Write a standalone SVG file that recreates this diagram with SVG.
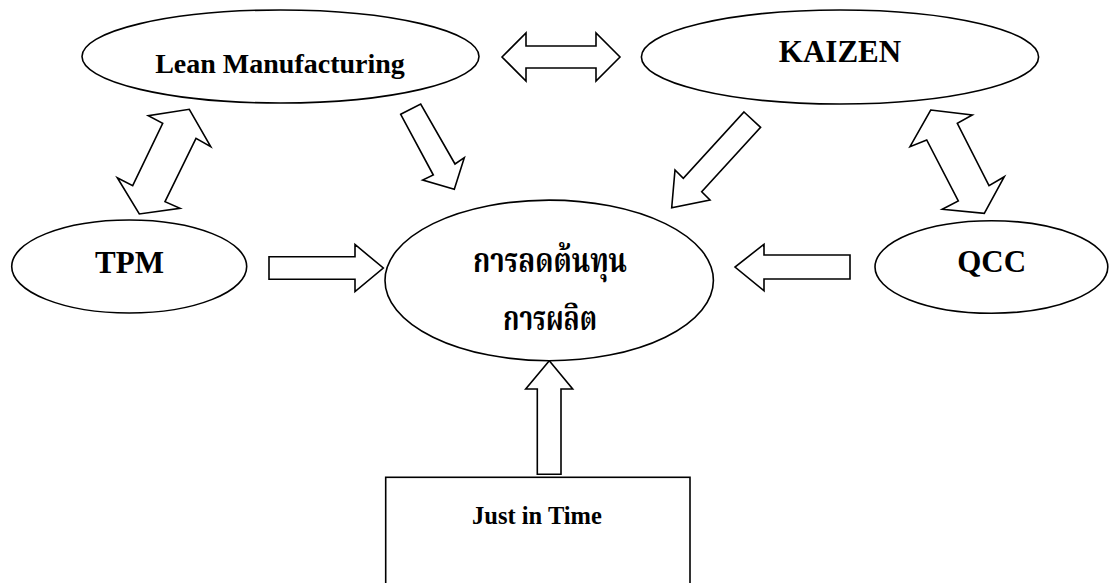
<svg xmlns="http://www.w3.org/2000/svg" width="1109" height="583" viewBox="0 0 1109 583">
<style>
.shape{fill:#fff;stroke:#000;stroke-width:1.6}
.arrow{fill:#fff;stroke:#000;stroke-width:1.6;stroke-linejoin:miter}
.lbl{font-family:"Liberation Serif","Times New Roman",serif;font-weight:bold;fill:#000;text-anchor:middle}
.thai{font-family:"Noto Serif Thai","Noto Sans Thai Looped","Kinnari","Norasi","Garuda","Loma","Noto Sans Thai","DejaVu Sans",sans-serif;font-weight:bold;fill:#000;text-anchor:middle}
</style>
<rect width="1109" height="583" fill="#fff"/>
<g id="connectors">
  <polygon class="arrow" points="502,57 526,33 526,46 596,46 596,33 620,57 596,81 596,68 526,68 526,81"/>
  <polygon class="arrow" points="400.7,114.3 420.7,104 455,164 464.3,157.7 454.3,189.3 422.7,180 433.3,175"/>
  <polygon class="arrow" points="744,112 760.6,127.3 701.7,191.7 710,200 671.7,207.7 675,170 683.3,178.3"/>
  <polygon class="arrow" points="189.3,109.3 210.7,146.7 196,138.3 165,201.7 180,208.3 139.3,214 117.3,177.7 132.7,185.7 162.7,123.3 148.3,115.7"/>
  <polygon class="arrow" points="930.7,110 972.3,115 957.3,123.3 989,185.7 1004.3,176.7 984.3,213.3 942.3,209.3 958.3,201 926.7,140 910,146.7"/>
  <polygon class="arrow" points="269,256.7 355,256.7 355,244.5 383.3,268 355,291.5 355,279.3 269,279.3"/>
  <polygon class="arrow" points="850,255 764,255 764,244.3 735,267 764,290.7 764,279 850,279"/>
  <polygon class="arrow" points="549.3,360.7 572.7,389 561,389 561,474.3 537.3,474.3 537.3,389 525.7,389"/>
</g>
<g id="lean">
  <ellipse class="shape" cx="280.5" cy="56.5" rx="198.5" ry="46.5"/>
  <text class="lbl" x="280" y="72.5" font-size="28">Lean Manufacturing</text>
</g>
<g id="kaizen">
  <ellipse class="shape" cx="840" cy="57" rx="198.6" ry="47"/>
  <text class="lbl" x="840" y="62.3" font-size="31">KAIZEN</text>
</g>
<g id="tpm">
  <ellipse class="shape" cx="129.2" cy="266.5" rx="117.5" ry="46.5"/>
  <text class="lbl" x="129.5" y="273.3" font-size="31">TPM</text>
</g>
<g id="qcc">
  <ellipse class="shape" cx="991.4" cy="267" rx="116.4" ry="46.3"/>
  <text class="lbl" x="991.7" y="272.3" font-size="31">QCC</text>
</g>
<g id="center">
  <ellipse class="shape" cx="549.2" cy="280.4" rx="164.2" ry="80.3"/>
  <text class="thai" x="550" y="271.7" font-size="34" textLength="154" lengthAdjust="spacingAndGlyphs">การลดต้นทุน</text>
  <text class="thai" x="550" y="330" font-size="34" textLength="94" lengthAdjust="spacingAndGlyphs">การผลิต</text>
</g>
<g id="jit">
  <rect class="shape" x="385.7" y="477.3" width="304.3" height="130"/>
  <text class="lbl" x="537" y="524" font-size="24.5">Just in Time</text>
</g>
</svg>
